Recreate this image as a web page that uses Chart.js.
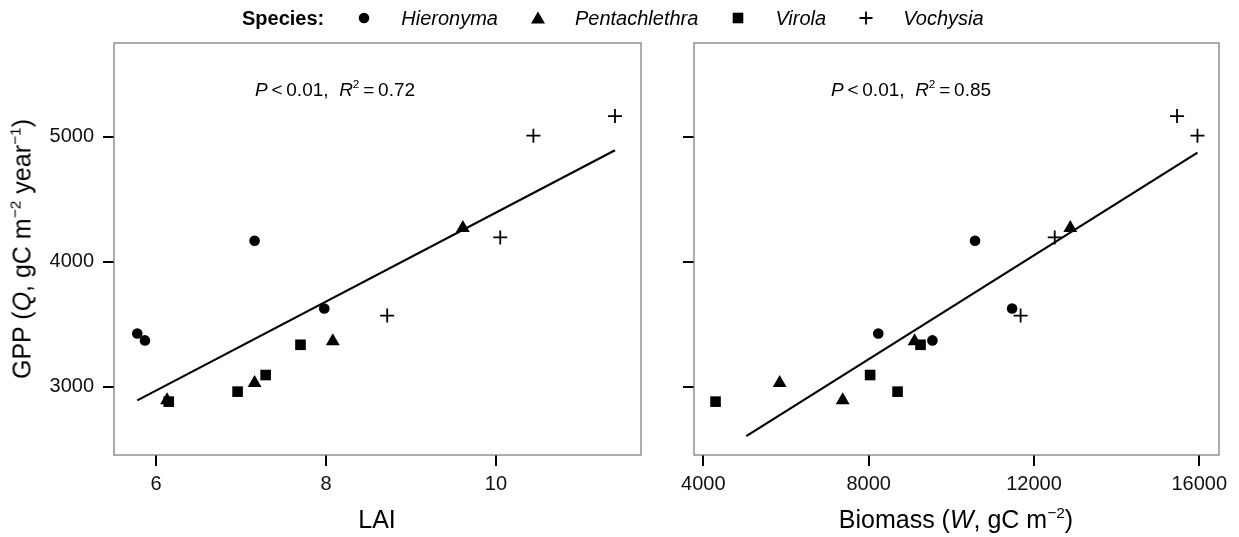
<!DOCTYPE html>
<html>
<head>
<meta charset="utf-8">
<script src="https://cdn.jsdelivr.net/npm/chart.js@4/dist/chart.umd.min.js"></script>
<style>
  html, body { margin: 0; padding: 0; background: #fff; }
  #wrap { position: relative; width: 1239px; height: 537px; overflow: hidden;
          font-family: "Liberation Sans", Arial, Helvetica, sans-serif; color: #000; }
  canvas { position: absolute; top: 0; }
  .lbl { position: absolute; white-space: pre; transform: translate(-50%, -50%); line-height: 1; }
  .rot { transform: translate(-50%, -50%) rotate(-90deg); }
  sup { font-size: 0.62em; vertical-align: 0.62em; line-height: 0; }
  #legend { position: absolute; left: 242px; top: 6px; height: 24px; display: flex;
            align-items: center; font-size: 20px; white-space: nowrap; }
  #legend svg { display: block; margin: 0 30px 0 33px; }
</style>
</head>
<body>
<div id="wrap">
  <canvas id="lai" width="660" height="537" style="left:0;width:660px;height:537px"></canvas>
  <canvas id="bio" width="579" height="537" style="left:660px;width:579px;height:537px"></canvas>
  <div id="legend"></div>
  <div class="lbl" style="left:335px;top:89px;font-size:19px"><i>P</i>&thinsp;&lt;&thinsp;0.01,  <i>R</i><sup>2</sup>&thinsp;=&thinsp;0.72</div>
  <div class="lbl" style="left:911px;top:89px;font-size:19px"><i>P</i>&thinsp;&lt;&thinsp;0.01,  <i>R</i><sup>2</sup>&thinsp;=&thinsp;0.85</div>
  <div class="lbl" style="left:377px;top:519px;font-size:25px">LAI</div>
  <div class="lbl" style="left:956px;top:519px;font-size:25px">Biomass (<i>W</i>, gC m<sup>−2</sup>)</div>
  <div class="lbl rot" style="left:22px;top:249px;font-size:25px">GPP (<i>Q</i>, gC m<sup>−2</sup> year<sup>−1</sup>)</div>
</div>
<script>
// Tree-level measurements, grouped by species (same tree order in each array)
const species = ['Hieronyma', 'Pentachlethra', 'Virola', 'Vochysia'];

const laiHieronyma     = [5.78, 5.87, 7.16, 7.98];
const biomassHieronyma = [8233, 9543, 10574, 11471];
const gppHieronyma     = [3425, 3370, 4168, 3625];

const laiPentachlethra     = [6.13, 7.16, 8.08, 9.61];
const biomassPentachlethra = [7372, 5848, 9112, 12879];
const gppPentachlethra     = [2891, 3030, 3364, 4269];

const laiVirola     = [6.15, 6.96, 7.29, 7.70];
const biomassVirola = [4296, 8700, 8036, 9256];
const gppVirola     = [2880, 2960, 3093, 3335];

const laiVochysia     = [8.72, 10.05, 10.44, 11.40];
const biomassVochysia = [11677, 12503, 15956, 15462];
const gppVochysia     = [3569, 4194, 5008, 5165];

// Axis ticks and ranges
const yTicks = [3000, 4000, 5000];
const yRange = [2453, 5750];
const xTicksLAI = [6, 8, 10];
const xRangeLAI = [5.506, 11.706];
const xTicksBiomass = [4000, 8000, 12000, 16000];
const xRangeBiomass = [3775, 16477];

// Extent over which each fitted regression line is drawn
const fitRangeLAI = [5.78, 11.40];
const fitRangeBiomass = [5040, 15956];

const FONT = '"Liberation Sans", Arial, Helvetica, sans-serif';

const groups = {
  Hieronyma:     { lai: laiHieronyma,     bio: biomassHieronyma,     gpp: gppHieronyma },
  Pentachlethra: { lai: laiPentachlethra, bio: biomassPentachlethra, gpp: gppPentachlethra },
  Virola:        { lai: laiVirola,        bio: biomassVirola,        gpp: gppVirola },
  Vochysia:      { lai: laiVochysia,      bio: biomassVochysia,      gpp: gppVochysia }
};

const markers = {
  Hieronyma:     { pointStyle: 'circle',   radius: 5.3, filled: true },
  Pentachlethra: { pointStyle: 'triangle', radius: 8,   filled: true },
  Virola:        { pointStyle: 'rect',     radius: 7.5, filled: true },
  Vochysia:      { pointStyle: 'cross',    radius: 7,   filled: false }
};

// Ordinary least-squares fit of GPP on a predictor, evaluated at the ends of a range
function olsLine(xs, ys, range) {
  const n = xs.length;
  const mx = xs.reduce((a, b) => a + b, 0) / n;
  const my = ys.reduce((a, b) => a + b, 0) / n;
  let sxy = 0, sxx = 0;
  for (let i = 0; i < n; i++) { sxy += (xs[i] - mx) * (ys[i] - my); sxx += (xs[i] - mx) ** 2; }
  const slope = sxy / sxx, icpt = my - slope * mx;
  return range.map(x => ({ x, y: icpt + slope * x }));
}

// Grey frame around each panel
const panelBorder = {
  id: 'panelBorder',
  beforeDatasetsDraw(chart) {
    const { ctx, chartArea: a } = chart;
    ctx.save();
    ctx.strokeStyle = '#808080';
    ctx.lineWidth = 1.3;
    ctx.strokeRect(a.left, a.top, a.right - a.left, a.bottom - a.top);
    ctx.restore();
  }
};

function makePanel(canvasId, key, xTicks, xRange, fitRange, yAxisWidth, padRight, showYLabels) {
  const datasets = species.map((sp, i) => {
    const g = groups[sp], m = markers[sp];
    return {
      label: sp,
      order: species.length - i,
      data: g[key].map((x, j) => ({ x, y: g.gpp[j] })),
      pointStyle: m.pointStyle,
      pointRadius: m.radius,
      pointHoverRadius: m.radius,
      backgroundColor: '#000',
      borderColor: '#000',
      pointBorderWidth: m.filled ? 0 : 1.8
    };
  });
  const allX = species.flatMap(sp => groups[sp][key]);
  const allY = species.flatMap(sp => groups[sp].gpp);
  datasets.push({
    label: 'fit',
    order: 10,
    data: olsLine(allX, allY, fitRange),
    showLine: true,
    borderColor: '#000',
    borderWidth: 2.2,
    pointRadius: 0,
    fill: false
  });

  const tickFont = { family: FONT, size: 20 };
  return new Chart(document.getElementById(canvasId), {
    type: 'scatter',
    data: { datasets },
    options: {
      responsive: false,
      animation: false,
      devicePixelRatio: 1,
      layout: { autoPadding: false, padding: { top: 43, right: padRight, bottom: 0, left: 0 } },
      plugins: { legend: { display: false }, tooltip: { enabled: false } },
      events: [],
      scales: {
        x: {
          type: 'linear', min: xRange[0], max: xRange[1],
          afterBuildTicks: s => { s.ticks = xTicks.map(v => ({ value: v })); },
          afterFit: s => { s.height = 82; },
          grid: { display: true, drawOnChartArea: false, drawTicks: true, tickLength: 11, color: '#000', lineWidth: 2 },
          border: { display: false },
          ticks: { color: '#111', font: tickFont, padding: 6, maxRotation: 0, autoSkip: false,
                   callback: v => String(v) }
        },
        y: {
          type: 'linear', min: yRange[0], max: yRange[1],
          afterBuildTicks: s => { s.ticks = yTicks.map(v => ({ value: v })); },
          afterFit: s => { s.width = yAxisWidth; },
          grid: { display: true, drawOnChartArea: false, drawTicks: true, tickLength: 11, color: '#000', lineWidth: 2 },
          border: { display: false },
          ticks: { color: '#111', font: tickFont, padding: 9, autoSkip: false,
                   callback: v => showYLabels ? String(v) : '' }
        }
      }
    },
    plugins: [panelBorder]
  });
}

makePanel('lai', 'lai', xTicksLAI, xRangeLAI, fitRangeLAI, 114, 19, true);
makePanel('bio', 'bio', xTicksBiomass, xRangeBiomass, fitRangeBiomass, 34, 20, false);

// Species key across the top
const legendSymbols = {
  Hieronyma: '<circle cx="7" cy="7" r="5.3" fill="#000"/>',
  Pentachlethra: '<polygon points="7,0.5 14,12.5 0,12.5" fill="#000"/>',
  Virola: '<rect x="1.7" y="1.7" width="10.6" height="10.6" fill="#000"/>',
  Vochysia: '<path d="M7 0.5V13.5M0.5 7H13.5" stroke="#000" stroke-width="1.8" fill="none"/>'
};
const legend = document.getElementById('legend');
legend.innerHTML = '<b>Species:</b>' + species.map(sp =>
  '<svg width="14" height="14" viewBox="0 0 14 14">' + legendSymbols[sp] + '</svg><i>' + sp + '</i>'
).join('');
</script>
</body>
</html>
